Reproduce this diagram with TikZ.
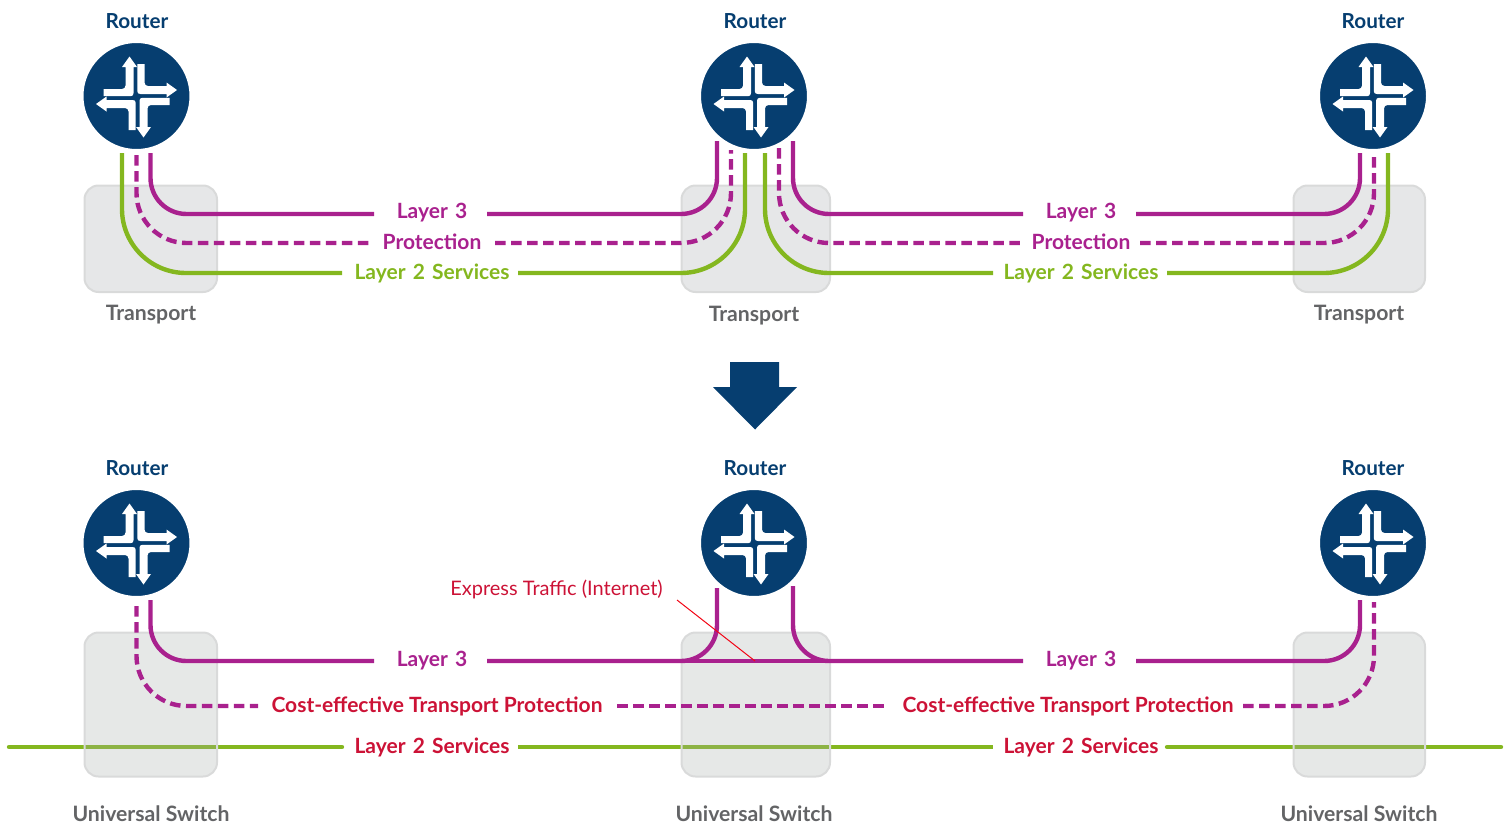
\documentclass[tikz,border=0pt]{standalone}
\usepackage{fontspec}
\setmainfont{Lato}
\definecolor{navy}{HTML}{063E70}
\definecolor{plum}{HTML}{A9218E}
\definecolor{lime}{HTML}{84B71F}
\definecolor{crim}{HTML}{CC1236}
\definecolor{slate}{HTML}{636466}
\definecolor{boxline}{HTML}{D9DADA}
\definecolor{boxfill}{HTML}{E6E7E8}
\definecolor{boxtint}{HTML}{A6ABAA}
\newcommand{\lblfont}{\fontsize{21}{25}\selectfont\bfseries\spaceskip=7.2pt\relax}
\tikzset{
  x=1pt,y=-1pt,
  solidp/.style={draw=plum,line width=4.4pt},
  dashp/.style={draw=plum,line width=4.4pt,dash pattern=on 10.5pt off 5.5pt},
  greenl/.style={draw=lime,line width=4.4pt},
  r36/.style={rounded corners=36pt},
  r50/.style={rounded corners=50pt},
  r64/.style={rounded corners=64pt},
  boxa/.style={draw=boxline,line width=2pt,fill=boxfill,rounded corners=14pt},
  boxb/.style={draw=boxline,line width=2pt,fill=boxtint,fill opacity=.28,rounded corners=14pt},
  routerc/.style={circle,fill=navy,draw=white,line width=2.5pt,minimum size=108.5pt,inner sep=0pt},
  rlab/.style={font=\fontsize{20.7}{25}\selectfont\bfseries,text=navy,inner sep=0pt,anchor=base},
  glab/.style={font=\fontsize{21.2}{25}\selectfont\bfseries,text=slate,inner sep=0pt,anchor=base},
  plab/.style={font=\lblfont,text=plum,inner sep=0pt,anchor=base},
  llab/.style={font=\lblfont,text=lime,inner sep=0pt,anchor=base},
  clab/.style={font=\lblfont,text=crim,inner sep=0pt,anchor=base},
  costlab/.style={font=\fontsize{21}{25}\selectfont\bfseries,text=crim,inner sep=0pt,anchor=base},
  xlab/.style={font=\fontsize{20}{24}\selectfont,text=crim,inner sep=0pt,anchor=base},
}
\newcommand{\quarterL}{%
  \fill[white] (-33,-8) -- (-14.5,-8) .. controls (-12.5,-8) and (-11,-9.5) .. (-11,-11.5)
    -- (-11,-30) -- (-14.5,-30) -- (-7,-40.5) -- (0.5,-30) -- (-3,-30) -- (-3,-4)
    .. controls (-3,-2) and (-3.8,-0.8) .. (-5.8,-0.8) -- (-33,-0.8) -- cycle;}
\newcommand{\routerglyph}[1]{%
  \begin{scope}[shift={(#1)},yshift=-1pt]
    \quarterL
    \begin{scope}[rotate=-90]\quarterL\end{scope}
    \begin{scope}[rotate=180]\quarterL\end{scope}
    \begin{scope}[rotate=90]\quarterL\end{scope}
  \end{scope}}
\begin{document}
\begin{tikzpicture}
\useasboundingbox (0,0) rectangle (1509,827);
% ---------- upper boxes
\node[boxa,minimum width=132.5pt,minimum height=106.5pt,inner sep=0pt] (tb1) at (150.75,238.75) {};
\node[boxa,minimum width=148.5pt,minimum height=106.5pt,inner sep=0pt] (tb2) at (755.75,238.75) {};
\node[boxa,minimum width=131.5pt,minimum height=106.5pt,inner sep=0pt] (tb3) at (1359.25,238.75) {};
% ---------- upper labels
\node[plab] (a1) at (432,218) {Layer 3};
\node[plab] (a2) at (432,249) {Protection};
\node[llab] (a3) at (432,279.5) {Layer 2 Services};
\node[plab] (b1) at (1081,218) {Layer 3};
\node[plab] (b2) at (1081,249) {Protection};
\node[llab] (b3) at (1081,279.5) {Layer 2 Services};
% ---------- upper connectors
\coordinate (s1) at (150.5,153); \coordinate (e1) at (374,214);
\coordinate (s2) at (136.5,155); \coordinate (e2) at (371,243);
\coordinate (s3) at (122,153);   \coordinate (e3) at (342,273);
\coordinate (s4) at (717,141);   \coordinate (e4) at (487,214);
\coordinate (s5) at (731,150);   \coordinate (e5) at (495,243);
\coordinate (s6) at (745,153);   \coordinate (e6) at (518,273);
\coordinate (s7) at (793,141);   \coordinate (e7) at (1023,214);
\coordinate (s8) at (779,148);   \coordinate (e8) at (1020,243);
\coordinate (s9) at (765,153);   \coordinate (e9) at (993,273);
\coordinate (s10) at (1360,153); \coordinate (e10) at (1136,214);
\coordinate (s11) at (1374,153); \coordinate (e11) at (1140,243);
\coordinate (s12) at (1388,153); \coordinate (e12) at (1167,273);
\draw[solidp,r36] (s1) |- (e1);
\draw[dashp,r50] (s2) |- (e2);
\draw[greenl,r64] (s3) |- (e3);
\draw[solidp,r36] (s4) |- (e4);
\draw[dashp,r50] (e5) -| (s5);
\draw[greenl,r64] (s6) |- (e6);
\draw[solidp,r36] (s7) |- (e7);
\draw[dashp,r50] (s8) |- (e8);
\draw[greenl,r64] (s9) |- (e9);
\draw[solidp,r36] (s10) |- (e10);
\draw[dashp,r50] (e11) -| (s11);
\draw[greenl,r64] (s12) |- (e12);
% ---------- upper routers
\node[routerc] (r1) at (136.5,96) {};
\node[routerc] (r2) at (754,96) {};
\node[routerc] (r3) at (1373,96) {};
\routerglyph{136.5,96}
\routerglyph{754,96}
\routerglyph{1373,96}
\node[rlab] at (137,28) {Router};
\node[rlab] at (755,28) {Router};
\node[rlab] at (1373,28) {Router};
\node[glab] at (151,320) {Transport};
\node[glab] at (754,321) {Transport};
\node[glab] at (1359,320) {Transport};
% ---------- big arrow
\fill[navy] (730,362) -- (779,362) -- (779,387) -- (797,387) -- (755,429.5) -- (713,387) -- (730,387) -- cycle;
% ---------- lower green line under the boxes
\coordinate (g0) at (9,747); \coordinate (g1) at (342,747);
\coordinate (g2) at (518,747); \coordinate (g3) at (993,747);
\coordinate (g4) at (1167,747); \coordinate (g5) at (1501,747);
\draw[greenl,line cap=round] (g0) -- (g1);
\draw[greenl] (g2) -- (g3);
\draw[greenl,line cap=round] (g4) -- (g5);
% ---------- lower boxes
\node[boxb,minimum width=132.5pt,minimum height=144pt,inner sep=0pt] (lb1) at (150.75,704.5) {};
\node[boxb,minimum width=148.5pt,minimum height=144pt,inner sep=0pt] (lb2) at (755.75,704.5) {};
\node[boxb,minimum width=131.5pt,minimum height=144pt,inner sep=0pt] (lb3) at (1359.25,704.5) {};
% ---------- lower connectors
\coordinate (t1) at (150.5,600); \coordinate (u1) at (374,661);
\coordinate (t2) at (136.5,606); \coordinate (u2) at (258,706);
\coordinate (t3) at (717,588);   \coordinate (u3) at (487,661);
\coordinate (t4) at (793,586);   \coordinate (u4) at (1023,661);
\coordinate (t5) at (1360,600);  \coordinate (u5) at (1136,661);
\coordinate (t6) at (1374,602);  \coordinate (u6) at (1243,706);
\coordinate (m1) at (617,706);   \coordinate (m2) at (885,706);
\draw[solidp,r36] (t1) |- (u1);
\draw[dashp,r50] (t2) |- (u2);
\draw[solidp,r36] (t3) |- (u3);
\draw[solidp,r36] (t4) |- (u4);
\draw[solidp] (u3) -- (u4);
\draw[solidp,r36] (t5) |- (u5);
\draw[dashp,r50] (u6) -| (t6);
\draw[dashp] (m1) -- (m2);
% ---------- lower routers
\node[routerc] (r4) at (136.5,543) {};
\node[routerc] (r5) at (754,543) {};
\node[routerc] (r6) at (1373,543) {};
\routerglyph{136.5,543}
\routerglyph{754,543}
\routerglyph{1373,543}
\node[rlab] at (137,475) {Router};
\node[rlab] at (755,475) {Router};
\node[rlab] at (1373,475) {Router};
% ---------- lower labels
\node[plab] at (432,666) {Layer 3};
\node[plab] at (1081,666) {Layer 3};
\node[costlab] at (437,712) {Cost-effective Transport Protection};
\node[costlab] at (1068,712) {Cost-effective Transport Protection};
\node[clab] at (432,753) {Layer 2 Services};
\node[clab] at (1081,753) {Layer 2 Services};
\node[glab] at (151,821) {Universal Switch};
\node[glab] at (754,821) {Universal Switch};
\node[glab] at (1359,821) {Universal Switch};
\node[xlab] (ex) at (556.5,595) {Express Traffic (Internet)};
\coordinate (x1) at (677,600); \coordinate (x2) at (755,661);
\draw[red!85!plum,line width=1pt] (x1) -- (x2);
\end{tikzpicture}
\end{document}
